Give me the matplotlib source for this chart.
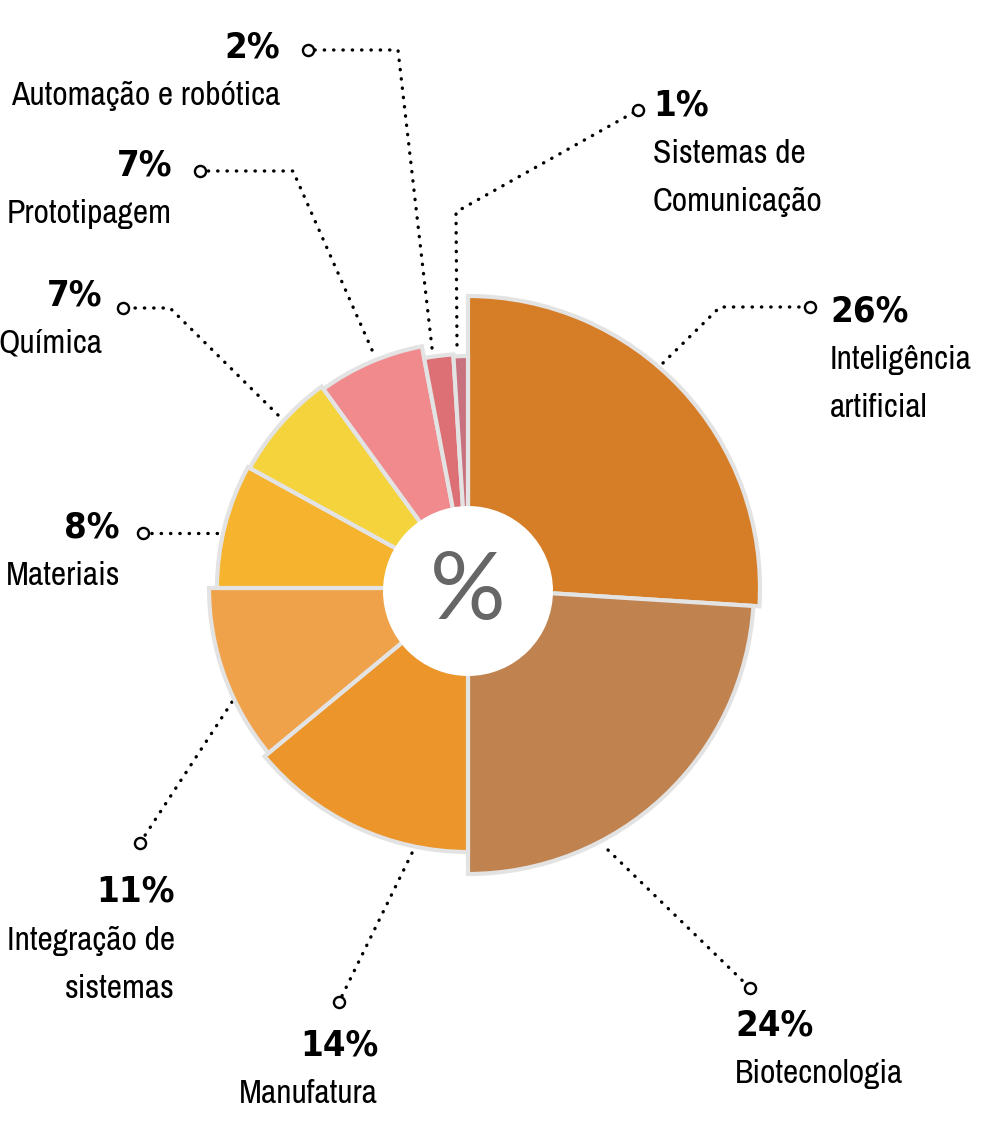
import matplotlib.pyplot as plt
from matplotlib.patches import Wedge, Circle
from matplotlib import font_manager as fm
from matplotlib.textpath import TextPath

# shares of each area, clockwise from 12 o'clock
categories = ['Inteligência\nartificial', 'Biotecnologia', 'Manufatura',
              'Integração de\nsistemas', 'Materiais', 'Química',
              'Prototipagem', 'Automação e robótica', 'Sistemas de\nComunicação']
shares = [26, 24, 14, 11, 8, 7, 7, 2, 1]

# styling / layout
colors = ['#D67D27', '#C0824F', '#EB952B', '#F0A24A', '#F6B32D',
          '#F5D33C', '#F08A8D', '#DC7074', '#C9727F']
outer_r = [292, 286, 264, 259, 251, 249, 246, 234, 232]
cx, cy = 468, 588

# leader line paths (slice -> circle), text anchor x, alignment, baseline of the %
leaders = [
    ([(663, 363), (720, 307), (810, 307)], 830, 'left', 321),
    ([(608, 850), (750, 988)], 735, 'left', 1035),
    ([(412, 853), (339, 1002)], 378, 'right', 1055),
    ([(232, 702), (140, 843)], 175, 'right', 902),
    ([(217, 533), (143, 533)], 120, 'right', 537),
    ([(278, 415), (170, 308), (123, 308)], 102, 'right', 305),
    ([(372, 350), (293, 171), (200, 171)], 172, 'right', 175),
    ([(432, 348), (398, 50), (308, 50)], 280, 'right', 57),
    ([(457, 345), (456, 212), (638, 110)], 653, 'left', 115),
]


def pick_narrow():
    # a narrow / condensed regular sans face if one is installed
    best = None
    prefer = ['narrow', 'notosans-condensed.', 'notosans-condensedlight', 'condensed']
    for f in fm.fontManager.ttflist:
        n = (f.name + ' ' + f.fname).lower()
        if 'dejavu' in n or not ('narrow' in n or 'condensed' in n):
            continue
        if any(k in n for k in ('mono', 'serif', 'italic', 'oblique', 'bold',
                                'black', 'heavy', 'medium', 'thin')):
            continue
        score = 0
        for i, w in enumerate(prefer):
            if w in n:
                score = len(prefer) - i
                break
        if best is None or score > best[0]:
            best = (score, f.fname)
    if best:
        return fm.FontProperties(fname=best[1])
    return fm.FontProperties(family='DejaVu Sans', stretch='condensed')


def size_for_height(fp, glyph, px):
    # font size (pt) that gives the glyph a height of px pixels at 100 dpi
    h = TextPath((0, 0), glyph, prop=fp, size=100).get_extents().height
    return px / (h / 100) * 72 / 100


lab_fp = pick_narrow()
pct_fp = fm.FontProperties(family='DejaVu Sans', stretch='condensed', weight='bold')
lab_size = size_for_height(lab_fp, 'M', 23)
pct_size = size_for_height(pct_fp, '2', 27)

fig = plt.figure(figsize=(9.84, 11.25), dpi=100)
ax = fig.add_axes([0, 0, 1, 1])
ax.set_xlim(0, 984)
ax.set_ylim(1125, 0)
ax.axis('off')

total = sum(shares)
start = 0.0
for v, r, c in zip(shares, outer_r, colors):
    t1 = -90 + 360 * start / total
    t2 = -90 + 360 * (start + v) / total
    ax.add_patch(Wedge((cx, cy), r, t1, t2, facecolor=c, edgecolor='#e3e3e3',
                       lw=3, joinstyle='miter', zorder=2))
    start += v

ax.add_patch(Circle((cx, cy + 3), 85, facecolor='white', edgecolor='none', zorder=3))
ax.text(cx, cy + 5, '%', ha='center', va='center', fontsize=68,
        family='Lato', weight='normal', color='#666666', zorder=4)

for (path, tx, ha, base), v, name in zip(leaders, shares, categories):
    xs = [p[0] for p in path]
    ys = [p[1] for p in path]
    ax.plot(xs, ys, color='black', lw=2.4, linestyle=(0, (0.1, 2.7)),
            dash_capstyle='round', zorder=1)
    ax.plot(xs[-1], ys[-1], 'o', ms=8, mfc='white', mec='black', mew=1.7, zorder=5)
    ax.text(tx, base, f'{v}%', ha=ha, va='baseline', fontproperties=pct_fp,
            fontsize=pct_size, color='black')
    for i, line in enumerate(name.split('\n')):
        ax.text(tx, base + 48 * (i + 1), line, ha=ha, va='baseline',
                fontproperties=lab_fp, fontsize=lab_size, color='black')

fig.savefig('out.png', dpi=100)
